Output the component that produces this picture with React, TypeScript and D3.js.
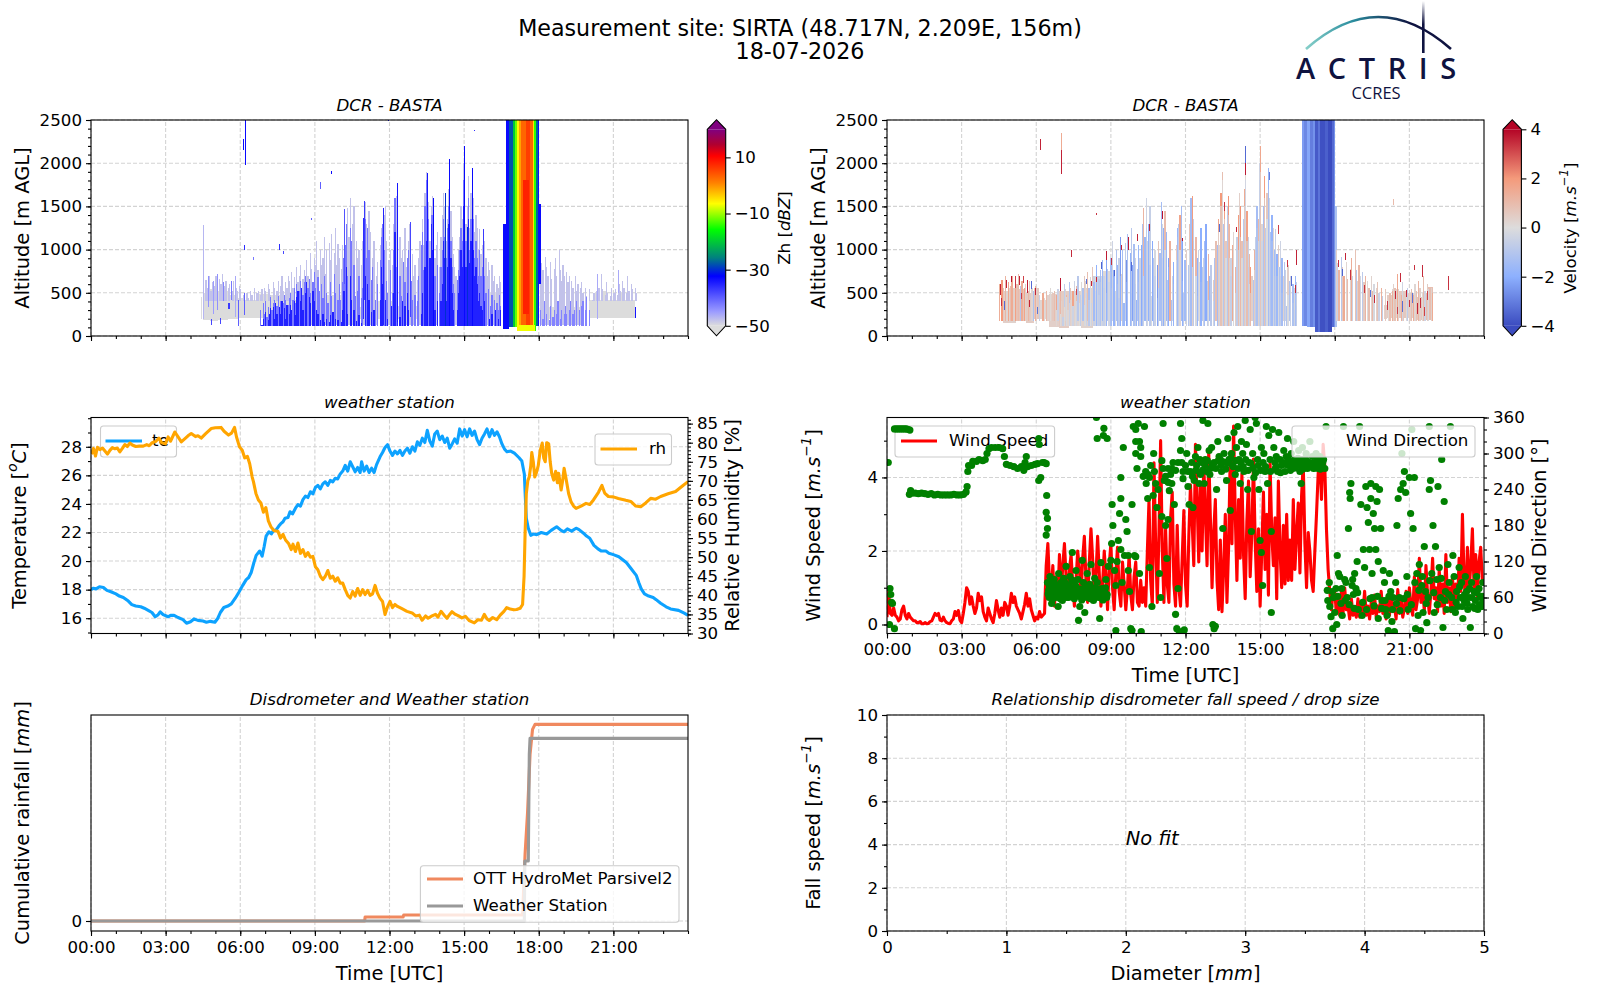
import * as d3 from 'd3';
import React, { useEffect, useRef } from 'react';

// ---- data ----
const timeTicks = [0, 3, 6, 9, 12, 15, 18, 21];
const timeLabels = ['00:00', '03:00', '06:00', '09:00', '12:00', '15:00', '18:00', '21:00'];
const hourMinor = d3.range(0, 25);

// radar rows: start hour, end hour, bottom m, top m, dBZ
const zhRows: number[][] = [
    // low grey echoes
    [4.02, 4.04, 200, 440, -50], [4.42, 4.48, 200, 450, -50], [4.5, 4.53, 200, 1280, -47],
    [4.5, 4.8, 190, 500, -50], [4.8, 5.1, 170, 540, -50], [5.1, 5.5, 190, 520, -50], [5.5, 5.9, 200, 480, -50], [5.9, 6.2, 210, 440, -50],
    [6.2, 6.7, 210, 420, -50], [6.7, 7.2, 210, 490, -50], [7.2, 8.1, 200, 470, -50], [8.1, 9.3, 200, 420, -50], [9.3, 10.2, 200, 480, -50],
    [10.2, 11.2, 200, 340, -50], [11.2, 12.3, 200, 400, -50], [12.3, 13.4, 200, 350, -50], [13.3, 13.6, 200, 560, -50], [15.9, 16.5, 200, 500, -50],
    [18.1, 19.7, 200, 330, -50], [20.0, 21.85, 210, 420, -50], [20.25, 20.45, 210, 500, -50], [20.55, 20.7, 210, 520, -50], [21.2, 21.35, 210, 500, -50],
    // rain shaft
    [16.55, 16.68, 80, 1300, -33], [16.68, 16.82, 80, 2500, -33], [16.82, 16.97, 100, 2500, -28], [16.97, 17.05, 100, 2500, -20], [17.05, 17.13, 100, 2500, -12], [17.13, 17.22, 55, 2500, -6], [17.22, 17.3, 55, 2500, -1], [17.3, 17.5, 55, 2500, 3], [17.5, 17.65, 55, 2500, 6], [17.65, 17.75, 55, 2500, 3], [17.75, 17.83, 55, 2500, -5], [17.82, 17.89, 55, 2500, -14], [17.88, 17.95, 120, 2500, -27], [17.95, 18.03, 120, 2500, -33],
    [17.36, 17.62, 250, 1800, 8], [17.22, 17.83, 55, 130, -7],
    // specks before the convection
    [4.7, 4.74, 330, 690, -44], [4.82, 4.85, 130, 200, -38], [4.9, 4.94, 260, 640, -45], [5.08, 5.12, 300, 720, -44], [5.2, 5.23, 140, 210, -38], [5.3, 5.34, 400, 620, -43], [5.52, 5.6, 310, 380, -37],
    [5.62, 5.66, 420, 640, -42], [5.78, 5.82, 220, 700, -46], [5.92, 5.95, 120, 420, -40], [6.15, 6.18, 1000, 1050, -36], [6.12, 6.16, 2150, 2280, -33], [6.2, 6.24, 1980, 2500, -33], [6.15, 6.18, 240, 500, -40],
    [6.52, 6.55, 880, 920, -42], [7.55, 7.58, 1000, 1060, -36], [7.72, 7.75, 950, 980, -38], [9.2, 9.23, 1700, 1780, -40], [9.65, 9.68, 1880, 1910, -33], [8.85, 8.88, 1340, 1370, -40], [11.95, 11.98, 2490, 2500, -33], [15.4, 15.43, 2370, 2390, -36], [20.45, 20.47, 1880, 1920, -42],
    // cloud fingers, rising through the day
    [10.18, 10.22, 600, 1470, -39], [10.92, 10.97, 200, 1370, -36], [10.99, 11.03, 420, 1560, -37], [11.74, 11.79, 130, 1480, -35], [12.3, 12.34, 160, 1770, -34], [12.82, 12.86, 220, 1320, -38],
    [13.52, 13.56, 120, 1890, -34], [13.76, 13.8, 110, 1600, -33], [14.22, 14.27, 110, 1660, -30], [14.4, 14.44, 110, 2050, -33],
    [15.0, 15.04, 110, 2200, -33], [15.12, 15.16, 110, 1260, -30], [15.33, 15.37, 110, 1940, -33], [15.75, 15.79, 110, 1240, -37],
    [18.02, 18.08, 600, 1530, -33], [18.72, 18.75, 1150, 1200, -42],
    [19.2, 19.23, 1150, 1200, -44], [21.85, 21.89, 210, 340, -34], [21.7, 21.72, 200, 560, -45], [20.35, 20.37, 200, 720, -46], [21.2, 21.22, 500, 760, -46],
];

// echo tops by 3 minute column: pale fringe, mid blue core, saturated core
const zhPaleTopDay = [ // from 04:30
    600, 0, 650, 560, 0, 690, 520, 620, 0, 580,
    700, 540, 0, 660, 600, 720, 0, 580, 640, 0, 560, 600, 0, 520, 640, 0, 560, 520, 0, 580,
    540, 0, 480, 0, 0, 500, 440, 0, 520, 480, 0, 560, 0, 500, 520, 0, 480, 540, 0, 560,
    520, 0, 600, 540, 480, 0, 620, 560, 0, 520, 640, 0, 580, 700, 520, 0, 620, 560, 700, 640,
    0, 740, 560, 680, 0, 800, 620, 700, 820, 0, 660, 760, 0, 880, 700, 640, 960, 780, 0, 900,
    820, 1100, 760, 0, 1000, 820, 900, 1150, 720, 1000, 0, 1080, 880, 1180, 0, 960, 1250, 820, 1060, 900,
    0, 780, 1050, 900, 0, 1300, 1480, 1150, 1600, 0, 1300, 1500, 0, 1100, 900, 1000, 0, 820, 1100, 960,
    1550, 1300, 0, 1450, 1200, 0, 900, 1100, 0, 700, 860, 0, 1050, 1250, 0, 1400, 1500, 1100, 0, 880,
    1000, 0, 820, 1300, 1000, 1620, 1350, 0, 1150, 900, 1000, 0, 1250, 800, 0, 1100, 1300, 0, 950, 700,
    820, 0, 650, 900, 1100, 0, 1350, 1050, 1650, 1900, 1300, 1550, 1100, 1500, 1620, 1300, 900, 1050, 1200, 0,
    800, 1150, 1400, 1650, 1500, 1100, 1350, 1700, 2050, 1450, 1150, 950, 800, 700, 0, 1000, 1150, 1500, 1350, 2000,
    2200, 1300, 1500, 1850, 1250, 1650, 1950, 1600, 1200, 1400, 1250, 1000, 1240, 950, 1050, 800, 1100, 900, 700, 860,
    760, 0, 820, 640, 700, 0, 600, 560, 700, 620,
];
const zhMidTopDay = [ // from 06:48
    300, 0, 380, 260,
    400, 220, 340, 0, 450, 300, 380, 420, 0, 350, 460, 300, 400, 0, 380, 480, 420, 0, 360, 440,
    500, 0, 420, 560, 380, 600, 0, 520, 640, 0, 480, 620, 700, 0, 560, 660, 500, 0, 620, 740,
    560, 0, 680, 520, 0, 600, 440, 700, 0, 500, 380, 0, 620, 460, 0, 720, 500, 0, 420, 600,
    420, 0, 620, 900, 1050, 1300, 700, 0, 1250, 1100, 0, 820, 460, 0, 520, 700, 0, 440, 560, 0,
    1350, 900, 1250, 1000, 0, 650, 800, 0, 420, 0, 600, 0, 880, 1150, 1300, 1000, 0, 640, 500, 0,
    760, 0, 500, 1000, 1600, 800, 1100, 0, 700, 460, 0, 860, 620, 0, 900, 1000, 0, 640, 420, 0,
    480, 0, 400, 700, 0, 1050, 1200, 760, 1500, 1800, 1000, 1350, 900, 1400, 1400, 900, 700, 0, 820, 0,
    500, 800, 1000, 1350, 1150, 900, 1250, 1500, 1800, 1100, 800, 600, 500, 0, 650, 760, 1000, 1250, 1100, 1800,
    1900, 1100, 1250, 1600, 1000, 1350, 1700, 1350, 900, 1100, 900, 700, 1000, 700, 800, 500, 700, 500, 0, 540,
    0, 350, 480, 0, 420, 0, 380, 300, 480, 350,
];
const zhBlueTopDay = [ // from 06:48
    0, 130, 200, 0,
    280, 0, 180, 250, 320, 0, 340, 200, 380, 250, 0, 340, 260, 400, 0, 320, 200, 360, 0, 260,
    360, 300, 0, 400, 240, 450, 520, 0, 400, 560, 300, 0, 500, 620, 0, 450, 380, 0, 520, 400,
    0, 300, 260, 0, 180, 0, 250, 160, 0, 200, 0, 160, 240, 0, 280, 0, 200, 0, 180, 0,
    0, 160, 300, 520, 0, 800, 260, 0, 700, 420, 0, 300, 0, 170, 0, 240, 0, 150, 0, 0,
    700, 0, 600, 420, 0, 280, 0, 300, 0, 0, 0, 0, 420, 800, 600, 0, 420, 0, 200, 0,
    0, 350, 0, 500, 1200, 0, 500, 0, 220, 0, 400, 0, 350, 0, 500, 300, 0, 0, 0, 0,
    0, 0, 0, 0, 0, 250, 500, 0, 800, 1100, 500, 0, 900, 1300, 1000, 600, 300, 0, 400, 0,
    0, 400, 600, 1100, 900, 400, 800, 1300, 1500, 900, 500, 300, 0, 0, 300, 500, 700, 1000, 800, 1500,
    1600, 800, 1000, 1350, 850, 1100, 1400, 1000, 700, 800, 600, 400, 500, 350, 300, 300, 400, 0, 0, 0,
    200, 0, 250, 0, 0, 300, 0, 200, 0, 300,
];
const zhPaleTopEve = [ // from 18:03
    1000, 850, 760, 0, 920, 800, 700, 0, 860, 660, 0, 780, 900, 700, 0, 1000, 760, 640, 820, 700,
    0, 740, 620, 700, 0, 640, 560, 0, 700, 520, 600, 0, 560, 620, 500, 0, 560, 460, 0, 540,
    0, 0, 420, 500, 0, 520, 600, 560, 0, 720, 540, 0, 480, 620, 500, 0, 460, 560, 0, 500,
    540, 0, 480, 600, 520, 0, 640, 560, 0, 500, 700, 520, 0, 600, 540, 0, 560, 500,
];
const zhMidTopEve = [ // from 18:03
    300, 0, 200, 400, 0, 260, 0, 180, 350, 0, 220, 300, 0, 250, 400, 0, 200, 300, 0, 250,
    350, 250, 0, 300, 400, 0, 250, 300, 0, 400, 0, 300, 0, 350, 400, 0, 300, 450, 0, 300,
];

// same layout, Doppler velocity in m/s
const velRows: number[][] = [
    // morning pale layer
    [4.66, 4.9, 150, 520, 0.4], [4.9, 5.2, 150, 560, 0.3], [5.2, 5.6, 170, 540, 0.7], [5.6, 5.9, 150, 500, 0.5], [5.9, 6.1, 200, 560, 0.6], [6.1, 6.5, 200, 420, 0.2], [6.5, 6.9, 100, 490, 0.4], [6.9, 7.3, 90, 520, 0.5], [7.3, 7.8, 110, 520, 0.2], [7.8, 8.3, 90, 560, 0.3], [8.3, 8.7, 120, 700, -0.5], [8.7, 9.1, 180, 750, 0.1],
    // rain shaft
    [16.7, 16.78, 120, 2500, -2.4], [16.78, 16.9, 120, 2500, -2.8], [16.9, 17.02, 100, 2500, -2.2], [17.02, 17.12, 100, 2500, -3.0], [17.12, 17.22, 100, 2500, -2.6], [17.22, 17.32, 50, 2500, -3.7], [17.32, 17.42, 50, 2500, -3.2], [17.42, 17.62, 50, 2500, -3.9], [17.62, 17.72, 50, 2500, -3.6], [17.72, 17.88, 50, 2500, -4], [17.88, 17.96, 100, 2500, -3.4], [17.96, 18.02, 100, 2500, -2.6], [18.02, 18.09, 100, 1500, -1.2],
    // evening patch
    [19.98, 20.1, 200, 360, 0.4], [20.1, 20.3, 210, 470, 0.5], [20.3, 20.6, 210, 540, 0.2], [20.6, 20.9, 210, 520, 0.6], [20.9, 21.3, 210, 500, 0.4], [21.3, 21.6, 190, 450, 0.6], [21.6, 21.75, 190, 500, 0.9], [21.75, 21.95, 190, 570, 0.9],
    // top specks
    [6.14, 6.17, 2150, 2500, 2.6], [6.15, 6.18, 2150, 2280, 3.6], [7.0, 7.03, 1880, 2150, 3.6], [7.0, 7.03, 2150, 2350, 1.5], [8.4, 8.43, 1400, 1420, 3.4], [8.03, 8.06, 930, 1000, 3.6], [7.4, 7.43, 920, 990, 3.5], [20.35, 20.37, 1520, 1590, 1], [21.5, 21.54, 680, 820, 3.5], [22.55, 22.58, 530, 700, 3.4],
    // dark specks along the layer top
    [4.56, 4.58, 480, 600, 3.6], [4.62, 4.64, 200, 300, -3.6], [4.8, 4.83, 550, 650, 3.6], [4.98, 5.01, 620, 700, 3.8], [5.14, 5.17, 560, 700, 3.3], [5.3, 5.33, 590, 690, 3.6], [5.48, 5.51, 610, 700, 3.2], [5.62, 5.65, 500, 650, 3.7], [5.8, 5.83, 540, 640, -3.4], [5.96, 5.99, 480, 550, 3.6], [6.22, 6.25, 400, 500, 3.5], [6.42, 6.45, 480, 540, -3.5], [6.7, 6.73, 500, 560, 3.6], [6.96, 6.99, 520, 670, 3.8], [7.1, 7.13, 480, 540, -3.2], [7.3, 7.33, 420, 530, 3.6], [7.6, 7.63, 480, 540, 3.2], [7.82, 7.85, 600, 680, 3.4], [8.02, 8.05, 600, 660, -3.3], [8.22, 8.25, 580, 640, 3.6], [8.42, 8.45, 620, 680, 3.6], [8.62, 8.65, 780, 860, -3.5], [8.82, 8.85, 880, 980, 3.7], [9.02, 9.05, 820, 900, 3.4], [9.14, 9.17, 690, 760, -3.6], [9.27, 9.3, 820, 940, 3.9], [9.42, 9.45, 1000, 1050, 3.6], [9.55, 9.58, 820, 920, 3.2], [9.68, 9.72, 1000, 1150, 3.7], [9.8, 9.84, 750, 860, -3.4],
    [4.6, 4.62, 350, 440, 3.4], [4.72, 4.74, 300, 400, -3.4], [5.06, 5.08, 400, 520, 3.5], [5.4, 5.42, 430, 500, 3.2], [5.72, 5.74, 330, 420, 3.6], [6.05, 6.07, 260, 340, -3.2], [7.5, 7.52, 380, 460, 3.4],
    [14.05, 14.08, 1200, 1260, 3.6], [14.4, 14.43, 1860, 2000, 3.7], [14.4, 14.43, 2000, 2200, -3.4], [14.78, 14.81, 1300, 1360, -3.4], [13.55, 13.58, 1450, 1550, 3.4], [13.35, 13.38, 1200, 1300, -3.3], [15.35, 15.38, 1800, 1900, -3], [15.72, 15.75, 1180, 1280, 3.2], [16.4, 16.43, 500, 590, 3.5], [16.25, 16.28, 580, 700, -3.4], [16.08, 16.11, 800, 880, 3.4], [16.55, 16.58, 1350, 1500, -3], [16.46, 16.48, 820, 1000, 3.6], [10.55, 10.58, 1220, 1300, 3.6], [11.05, 11.08, 1350, 1450, 3.8], [10.05, 10.08, 1100, 1180, 3.6], [11.85, 11.88, 1100, 1130, 3.8], [12.25, 12.28, 1000, 1080, -3.2],
    [18.15, 18.18, 800, 880, 3.4], [18.3, 18.33, 700, 770, -3.5], [18.42, 18.45, 880, 960, 3.6], [18.62, 18.65, 650, 760, 3.4], [18.8, 18.83, 620, 720, -3.2], [18.96, 18.99, 560, 660, 3.6], [19.18, 19.21, 500, 590, 3.4], [19.42, 19.45, 450, 530, -3.2], [19.58, 19.61, 380, 480, 3.5],
    [20.1, 20.13, 300, 400, 3.4], [20.25, 20.28, 280, 350, -3.2], [20.42, 20.45, 430, 520, 3.6], [20.52, 20.55, 250, 340, 3.2], [20.62, 20.65, 620, 730, 3.5], [20.72, 20.75, 280, 400, -3.3], [20.86, 20.89, 450, 530, 3.6], [20.98, 21.01, 330, 420, 3.4], [21.12, 21.15, 380, 500, -3.2], [21.2, 21.23, 760, 820, 3.4], [21.32, 21.35, 260, 380, 3.6], [21.44, 21.47, 320, 440, 3.5], [21.58, 21.61, 230, 330, 3.2], [21.7, 21.73, 420, 520, 3.2],
];
const velHighDay = [ // from 04:30
    1.4, 0.3, 2.0, 0.6, -0.8, 1.2, 0.2, 1.6, -0.4, 0.9,
    1.5, 0.4, -0.6, 1.8, 0.8, 1.0, 0.2, -1, 1.4, 0.5, 1.7, 0.3, -0.8, 1.1, 0.6, 1.6, 0.2, -1.2, 0.8, 1.3,
    0.4, 1.2, -0.6, 0.3, 0.7, 1.5, 0.1, -0.9, 1.0, 0.3, 1.3, 0.1, -1, 0.6, 0.9, 0.2, 1.6, -0.5, 0.4, 1.1,
    0.5, 1.5, -0.7, 0.3, 1.2, 0.1, -1.1, 0.8, 0.4, 1.7, -0.4, 0.2, 1.0, -0.9, 0.5, 1.4, 0.1, -1.2, 0.6, 0.2,
    -0.6, 0.9, -1.3, 0.3, -0.8, 0.7, -1.5, 0.1, -1.9, 0.5, -0.9, -1.4, 0.2, -1.7, -0.5, 0.4, -2.2, -1, 0.6, -1.4,
    -1.6, -0.4, -2.1, 0.8, -1.2, -1.8, -0.6, -2.4, 0.3, -1.4, -1.9, -0.7, -2.6, -1.2, 0.2, -1.8, -0.9, -2.3, -1.3, -0.3,
    -2, -1, -1.7, 0.5, -2.4, -1.1, 1.2, -1.6, -0.4, 1.6, -1.9, -0.6, 1.3, -2.1, -1, -0.2, -1.8, -2.5, 0.7, -1.3,
    -1.4, -0.2, -2.2, 1, -1.6, -0.6, -2.3, 1.4, -1.2, -0.3, -2, -1, 0.6, -1.7, -0.5, 1.7, -1.4, -2.2, -0.7, -1.5,
    0.4, -1.9, -1, 0.8, -1.6, 1.9, -0.6, -1.5, 1.1, -1.9, -0.4, 1.3, -2, -0.9, 0.6, -1.4, -2.1, -0.4, 1.2, -1.6,
    -0.8, -1.8, 0.5, -1.1, 0.9, -1.6, 1.6, 0.2, 2, 0.9, -1.1, 1.8, 0.6, -0.7, 2.1, 1.2, -0.4, 1.5, 0.2, -1.2,
    1.2, -0.6, 1.9, 0.4, 2.1, 0.8, -0.8, 1.5, 0.2, 1.8, -0.5, 1.1, 2.0, 0.4, -0.9, 1.3, -0.6, -1.4, 1.1, -0.4,
    1.6, 0.2, -1.3, 1.9, -0.8, 0.6, -1.7, -0.3, -1.2, -1.8, 0.2, -1.4, -0.6, -1.9, 0.5, -1.1, -0.4, -1.6, 0.3, -1,
    -0.5, -1.3, 0.4, -1.1, -0.3, 0.9, -1.4, -0.2, -1.7, -0.6,
];
const velLowDay = [ // from 06:48
    0.2, -0.4, 0.6, 0.1,
    0.3, -0.6, 0.1, 0.5, -0.2, 0.2, -0.5, 0.4, 0, -0.4, 0.3, 0.1, -0.3, 0.5, 0, -0.7, 0.2, 0.4, -0.2, 0.1,
    -0.5, 0.2, -0.9, 0, -0.4, 0.3, -1.2, -0.3, -1.6, 0.1, -0.7, -1.1, -0.2, -1.4, -0.6, -0.1, -1.8, -0.9, -0.3, -1.2,
    -1.4, -0.6, -1.8, -0.2, -1.1, -1.5, -0.8, -2, -0.4, -1.2, -1.6, -0.9, -2.2, -1.3, -0.3, -1.7, -1, -1.9, -1.2, -0.6,
    -1.8, -1.1, -1.5, -0.4, -2.1, -1.2, -0.5, -1.4, -0.7, -0.3, -1.7, -0.9, -0.2, -1.9, -1.1, -0.5, -1.6, -2.2, -0.6, -1.2,
    -1.3, -0.5, -1.9, -0.2, -1.5, -0.8, -2, -0.3, -1.2, -0.6, -1.8, -1.1, -0.3, -1.5, -0.7, 0.2, -1.3, -1.9, -0.8, -1.4,
    -0.5, -1.7, -1.1, -0.2, -1.4, 0.4, -0.8, -1.4, -0.2, -1.7, -0.6, 0.1, -1.8, -1, -0.4, -1.3, -1.9, -0.7, -0.1, -1.4,
    -0.9, -1.6, -0.3, -1.1, -0.2, -1.4, 0.5, -0.3, 0.8, 0.2, -1, 0.7, -0.1, -0.9, 1, 0.3, -0.6, 0.5, -0.2, -1,
    0.4, -0.7, 0.9, -0.2, 1.1, 0.1, -0.9, 0.6, -0.3, 0.9, -0.7, 0.3, 1, -0.2, -1, 0.5, -0.7, -1.2, 0.3, -0.6,
    0.7, -0.3, -1.1, 0.8, -0.9, 0, -1.4, -0.5, -1.1, -1.5, -0.3, -1.2, -0.7, -1.6, -0.1, -1, -0.6, -1.4, -0.2, -0.9,
    -0.6, -1.1, -0.1, -1, -0.5, 0.2, -1.2, -0.4, -1.4, -0.7,
];
const velHighEve = [ // from 18:03
    0.4, -0.5, 1.2, 0.2, -0.9, 0.6, 1.5, -0.4, 0.2, 1.0, -0.7, 0.3, 1.4, -0.5, 0.1, 0.8, -1, 0.4, 1.1, -0.3,
    0.2, -0.8, 0.5, 1.2, -0.4, 0.1, 0.9, -0.6, 0.3, 1.1, -0.2, -0.9, 0.4, 0.8, -0.5, 0.2, 1.3, -0.7, 0.1, 0.6,
    0.5, 1.2, 0.1, 0.9, -0.6, 1.4, 0.3, 0.8, -0.4, 1.6, 0.2, 0.7, 1.3, -0.3, 0.6, 1.1, 0.1, -0.7, 1.5, 0.4,
    0.9, -0.5, 1.4, 0.2, 0.8, -0.8, 1.2, 0.4, 1.6, 0.1, 0.9, -0.4, 1.3, 0.5, -0.2, 1.0, 0.3, 1.5,
];

// weather station: hour, value
const temperature: [number, number][] = [
    [0, 18], [0.1, 18.1], [0.2, 18.05], [0.34, 18.2], [0.5, 18.15], [0.64, 17.95], [0.8, 17.85], [1, 17.7], [1.14, 17.55], [1.3, 17.45], [1.5, 17.2], [1.64, 16.95], [1.8, 16.85], [2, 16.8], [2.14, 16.7], [2.3, 16.55], [2.45, 16.4], [2.58, 16.1], [2.7, 16.25], [2.78, 16.45], [2.9, 16.25], [3.1, 16.1], [3.2, 16.2], [3.34, 16.2], [3.5, 16.05], [3.7, 15.9], [3.84, 15.65], [4, 15.75], [4.14, 15.95], [4.3, 15.85], [4.5, 15.8], [4.64, 15.72], [4.8, 15.78], [4.98, 15.72], [5.1, 16], [5.2, 16.4], [5.34, 16.75], [5.5, 16.85], [5.64, 17], [5.8, 17.4], [5.94, 17.8], [6.1, 18.3], [6.24, 18.7], [6.34, 18.85], [6.44, 19.2], [6.55, 19.9], [6.64, 20.4], [6.78, 20.7], [6.88, 20.35], [6.96, 21], [7.04, 21.75], [7.15, 22.05], [7.25, 21.9], [7.32, 22.1], [7.45, 22.2], [7.55, 22.45], [7.62, 22.6], [7.72, 22.75], [7.8, 23], [7.92, 23.05], [8, 23.45], [8.1, 23.3], [8.22, 23.7], [8.32, 23.95], [8.42, 23.85], [8.52, 24.3], [8.62, 24.55], [8.72, 24.45], [8.82, 24.85], [8.92, 24.7], [9.02, 25.15], [9.12, 25.3], [9.22, 25.05], [9.32, 25.4], [9.42, 25.55], [9.52, 25.3], [9.62, 25.65], [9.72, 25.55], [9.82, 25.8], [9.92, 25.75], [10.02, 26.1], [10.12, 26.3], [10.22, 26.7], [10.32, 26.3], [10.42, 26.95], [10.52, 26.6], [10.62, 26.25], [10.72, 26.55], [10.82, 26.2], [10.88, 26.95], [10.98, 26.3], [11.08, 26.65], [11.18, 26.2], [11.28, 26.5], [11.38, 26.2], [11.48, 26.75], [11.62, 27.3], [11.72, 27.6], [11.82, 27.95], [11.92, 28.15], [12.02, 27.7], [12.12, 27.4], [12.22, 27.7], [12.32, 27.5], [12.42, 27.75], [12.52, 27.4], [12.62, 27.7], [12.72, 27.9], [12.82, 27.55], [12.92, 28], [13.02, 27.7], [13.12, 28.35], [13.22, 28.1], [13.32, 28.6], [13.42, 28.3], [13.52, 29.15], [13.62, 28.4], [13.72, 28.05], [13.82, 28.9], [13.92, 29.1], [14.02, 28.5], [14.12, 28.75], [14.22, 28.3], [14.32, 28.6], [14.42, 27.9], [14.52, 28.2], [14.62, 28.55], [14.72, 28.25], [14.82, 29.25], [14.92, 28.75], [15.02, 29.2], [15.12, 28.7], [15.22, 29.25], [15.32, 28.8], [15.42, 29.1], [15.52, 28.5], [15.62, 28.15], [15.72, 28.6], [15.82, 28.9], [15.92, 29.25], [16.02, 28.7], [16.12, 29.2], [16.22, 28.8], [16.32, 29.05], [16.42, 28.7], [16.52, 28.2], [16.62, 27.85], [16.72, 27.65], [16.87, 27.7], [17.02, 27.55], [17.2, 27.25], [17.32, 27], [17.42, 26.1], [17.46, 24.5], [17.5, 23], [17.58, 22.3], [17.68, 21.8], [17.8, 21.9], [17.92, 21.85], [18.1, 22], [18.32, 21.9], [18.5, 22.15], [18.72, 22.4], [18.9, 22.15], [19.02, 22.05], [19.15, 22.25], [19.32, 22.1], [19.5, 22.3], [19.62, 22.2], [19.8, 21.95], [19.92, 21.75], [20.05, 21.6], [20.22, 21.1], [20.38, 20.85], [20.52, 20.7], [20.7, 20.7], [20.82, 20.55], [21, 20.45], [21.22, 20.3], [21.52, 19.9], [21.7, 19.5], [21.92, 19], [22.02, 18.5], [22.12, 18.05], [22.25, 17.7], [22.42, 17.55], [22.6, 17.45], [22.72, 17.3], [22.9, 17.05], [23.12, 16.8], [23.3, 16.65], [23.62, 16.55], [23.85, 16.35], [24, 16.2],
];
const humidity: [number, number][] = [
    [0.02, 77], [0.1, 78.5], [0.18, 76.5], [0.26, 78.8], [0.36, 78.2], [0.46, 78.6], [0.56, 77.8], [0.66, 77], [0.76, 78], [0.86, 78.7], [0.96, 78.4], [1.06, 78.6], [1.16, 77.6], [1.26, 78.5], [1.36, 79.5], [1.46, 79], [1.56, 79.9], [1.66, 79.4], [1.8, 79], [1.94, 79.1], [2.1, 79.1], [2.24, 79.5], [2.34, 79.2], [2.46, 80], [2.6, 80.3], [2.73, 81.2], [2.84, 80], [2.99, 79.7], [3.1, 81.5], [3.2, 80.4], [3.37, 82.8], [3.5, 81.5], [3.63, 80.2], [3.8, 81.2], [3.9, 81.8], [4.03, 82.4], [4.2, 81.6], [4.3, 81.8], [4.43, 81.2], [4.6, 82.3], [4.83, 83.7], [5, 83.9], [5.23, 84], [5.35, 83], [5.53, 82], [5.65, 82.5], [5.77, 84], [5.85, 81.5], [5.97, 78.9], [6.08, 78], [6.18, 76], [6.29, 76.4], [6.38, 74.5], [6.48, 71], [6.53, 69.8], [6.63, 66.7], [6.73, 65], [6.83, 64.2], [6.93, 61.8], [7.03, 63], [7.13, 59.5], [7.23, 58], [7.35, 57], [7.52, 56.7], [7.62, 55], [7.72, 56], [7.82, 54.5], [7.95, 53.5], [8.05, 52], [8.12, 53.4], [8.22, 51.5], [8.32, 53.7], [8.42, 51], [8.52, 52], [8.62, 50.2], [8.72, 51.2], [8.82, 50], [8.92, 50.2], [9.02, 47.5], [9.12, 46.7], [9.22, 45], [9.32, 44.1], [9.42, 45], [9.52, 46.5], [9.62, 44.5], [9.72, 45], [9.82, 43.7], [9.92, 44.6], [10.02, 43.2], [10.12, 43.2], [10.22, 41.5], [10.32, 40], [10.42, 39.3], [10.52, 41], [10.62, 39.8], [10.72, 41.8], [10.82, 40], [10.92, 41.5], [11.02, 40.2], [11.12, 41.3], [11.22, 40], [11.32, 40.4], [11.42, 42.6], [11.52, 40.5], [11.62, 39.2], [11.72, 38.4], [11.82, 35], [11.92, 37], [12.02, 38.4], [12.12, 36.8], [12.22, 37.6], [12.32, 37.1], [12.5, 36.5], [12.7, 35.8], [12.91, 35.4], [13.05, 34.6], [13.2, 34.8], [13.31, 33.5], [13.45, 34.6], [13.55, 34], [13.71, 34.6], [13.85, 35], [13.95, 34.3], [14.07, 35.8], [14.2, 34.8], [14.31, 34], [14.42, 35], [14.51, 35.7], [14.65, 35], [14.78, 34.6], [14.91, 34.1], [15.05, 34.5], [15.2, 33.4], [15.41, 32.8], [15.55, 33.6], [15.7, 33.5], [15.81, 35], [15.92, 33.8], [16.01, 33.4], [16.15, 34.2], [16.31, 33.6], [16.45, 34.8], [16.6, 35.8], [16.71, 36.8], [16.85, 36.4], [17, 36.2], [17.11, 36.3], [17.25, 36.6], [17.35, 37.6], [17.41, 45], [17.45, 56], [17.5, 66.7], [17.56, 70], [17.62, 71.1], [17.68, 74], [17.72, 77.4], [17.78, 75], [17.84, 71], [17.9, 72], [17.98, 74], [18.06, 78], [18.14, 79.9], [18.2, 76], [18.26, 75], [18.32, 80], [18.4, 79.7], [18.46, 75], [18.52, 72], [18.6, 70.2], [18.68, 72.5], [18.75, 69.5], [18.8, 72], [18.9, 67.6], [18.96, 70], [19.02, 73.3], [19.1, 70.5], [19.2, 66.7], [19.3, 64.5], [19.4, 63.4], [19.5, 62.8], [19.7, 63.4], [19.9, 64.1], [20.05, 63.8], [20.2, 65], [20.4, 67], [20.54, 68.8], [20.65, 66.8], [20.8, 65.9], [21, 65.8], [21.2, 65.4], [21.5, 64.9], [21.7, 64.6], [21.9, 63.4], [22.1, 63.2], [22.3, 64.2], [22.5, 65.4], [22.7, 65.2], [22.9, 65.9], [23.2, 66.6], [23.5, 67.2], [23.8, 68.8], [24, 69.8],
];

// wind speed, one sample every 4 minutes from 00:00
const windSpeed = [
    0.2, 0.9, 0.3, 0.25, 0.45, 0.25, 0.2, 0.1, 0.15, 0.4, 0.5, 0.25, 0.15, 0.3, 0.2,
    0.15, 0.1, 0.1, 0.05, 0.05, 0.08, 0.02, 0.02, 0.05, 0.02, 0.03, 0.08, 0.1, 0.2, 0.3,
    0.25, 0.3, 0.12, 0.1, 0.2, 0.1, 0.05, 0.03, 0.02, 0.1, 0.15, 0.35, 0.25, 0.38, 0.12,
    0.05, 0.3, 0.6, 1.0, 0.9, 0.55, 0.75, 0.5, 0.3, 0.45, 0.85, 0.65, 0.75, 0.35, 0.2,
    0.1, 0.45, 0.3, 0.15, 0.05, 0.3, 0.65, 0.4, 0.2, 0.45, 0.25, 0.6, 0.5, 0.25, 0.5,
    0.85, 0.6, 0.75, 0.5, 0.4, 0.3, 0.15, 0.35, 0.55, 0.85, 0.5, 0.7, 0.4, 0.25, 0.1,
    0.2, 0.15, 0.35, 0.2, 0.25, 0.3, 1.6, 2.2, 1.1, 0.9, 1.6, 0.5, 1.3, 0.7, 1.9,
    0.8, 1.6, 2.2, 1.3, 0.7, 1.5, 1.9, 1.1, 0.5, 1.2, 2.0, 1.5, 0.8, 1.8, 2.4,
    1.2, 0.6, 1.7, 2.6, 1.8, 0.7, 1.3, 2.4, 1.4, 0.5, 1.1, 2.0, 1.3, 0.4, 1.6,
    2.2, 1.0, 0.4, 1.4, 2.1, 0.9, 0.5, 1.7, 1.1, 0.4, 1.0, 1.9, 0.8, 0.4, 1.3,
    1.7, 0.6, 0.5, 1.2, 0.6, 1.0, 0.5, 2.0, 3.4, 1.2, 0.5, 4.4, 2.2, 0.6, 2.5,
    5.0, 2.0, 0.6, 2.6, 1.1, 0.6, 2.9, 3.6, 1.1, 0.5, 2.7, 1.0, 0.5, 1.8, 3.1,
    1.1, 0.5, 2.4, 3.8, 2.8, 1.6, 4.9, 3.4, 1.7, 3.8, 2.0, 4.4, 3.0, 1.6, 4.7,
    2.9, 1.0, 2.5, 3.4, 1.2, 0.4, 2.3, 0.35, 1.5, 3.0, 0.6, 2.1, 4.7, 2.2, 5.4,
    3.0, 1.2, 3.4, 1.8, 4.1, 1.9, 0.7, 2.8, 3.9, 1.3, 2.5, 4.5, 2.3, 0.9, 2.6,
    0.5, 2.0, 3.6, 1.5, 3.0, 0.8, 4.4, 2.5, 1.6, 2.9, 0.7, 3.9, 2.0, 1.0, 2.7,
    1.1, 3.0, 1.2, 2.3, 1.2, 3.4, 1.5, 2.5, 3.3, 1.4, 3.5, 4.4, 2.2, 1.0, 2.5,
    2.0, 1.2, 0.9, 2.0, 3.0, 4.1, 4.6, 3.4, 4.9, 4.3, 2.6, 1.5, 0.9, 0.4, 0.9,
    0.9, 0.3, 0.7, 0.25, 0.9, 0.3, 1.0, 0.4, 0.5, 0.15, 0.7, 0.25, 0.4, 0.2, 0.7,
    0.2, 0.6, 0.3, 0.9, 0.25, 0.5, 0.15, 0.6, 0.3, 0.8, 0.2, 0.5, 0.35, 0.9, 0.3,
    0.6, 0.15, 0.8, 0.25, 0.9, 0.35, 0.5, 0.15, 0.95, 0.3, 0.7, 0.2, 0.45, 0.9, 0.3,
    1.0, 0.5, 0.25, 1.3, 0.4, 0.7, 1.8, 0.6, 1.1, 0.35, 1.6, 0.8, 0.3, 0.9, 1.8,
    0.7, 1.0, 0.35, 1.5, 0.5, 1.1, 0.3, 1.9, 0.6, 1.0, 0.35, 1.3, 0.4, 1.1, 0.5,
    1.8, 0.9, 3.0, 1.2, 0.6, 2.1, 0.9, 1.6, 2.6, 1.0, 1.9, 0.7, 1.7, 2.1, 1.2,
];

const windDir: [number, number][] = [
    [0.05, 285], [0.1, 15], [0.12, 75], [0.15, 65], [0.18, 52], [0.22, 50], [0.3, 8], [0.3, 341], [0.38, 341], [0.46, 341], [0.54, 341], [0.62, 341], [0.7, 341], [0.78, 341], [0.86, 340], [0.92, 339],
    [0.9, 232], [0.95, 238], [1.0, 234], [1.13, 234], [1.26, 233], [1.39, 234], [1.52, 233], [1.65, 232], [1.78, 233], [1.91, 231], [2.04, 232], [2.17, 231], [2.3, 231], [2.43, 231], [2.56, 231], [2.69, 232], [2.82, 231], [2.95, 231], [3.08, 232], [3.18, 236], [3.22, 245],
    [3.25, 270], [3.28, 280], [3.4, 280], [3.45, 287], [3.6, 287], [3.7, 290], [3.85, 288], [3.95, 290], [4.02, 300], [4.1, 308], [4.2, 310], [4.35, 310], [4.5, 310], [4.65, 308], [4.72, 295], [4.8, 282], [4.95, 280], [5.1, 278], [5.25, 275], [5.4, 278], [5.5, 272], [5.55, 285], [5.6, 295], [5.65, 278], [5.8, 280], [5.95, 282], [6.05, 283], [6.1, 325], [6.12, 315], [6.18, 260], [6.25, 285], [6.32, 285], [6.4, 283],
    [6.1, 255], [6.42, 230], [6.4, 202], [6.45, 192], [6.45, 175], [6.4, 164],
    [6.45, 85], [6.5, 72], [6.52, 60], [6.55, 95], [6.6, 80], [6.62, 50], [6.68, 70], [6.72, 90], [6.78, 60], [6.82, 78], [6.88, 45], [6.9, 100], [6.95, 68], [7.0, 85], [7.05, 55], [7.1, 92], [7.15, 70], [7.2, 112], [7.25, 80], [7.3, 60], [7.35, 95], [7.4, 72], [7.45, 135], [7.5, 88], [7.55, 65], [7.6, 105], [7.65, 75], [7.7, 22], [7.75, 45], [7.8, 68], [7.85, 122], [7.9, 85], [7.95, 35], [8.0, 70], [8.05, 100], [8.1, 60], [8.15, 82], [8.2, 115], [8.25, 72], [8.3, 55], [8.35, 92], [8.4, 68], [8.42, 360], [8.45, 325], [8.45, 85], [8.5, 60], [8.55, 25], [8.6, 118], [8.65, 75], [8.7, 330], [8.72, 342], [8.8, 90], [8.85, 65], [8.85, 325], [8.9, 112],
    [6.48, 66], [6.53, 78], [6.58, 62], [6.63, 88], [6.67, 58], [6.73, 75], [6.77, 82], [6.83, 62], [6.87, 72], [6.93, 80], [6.97, 58], [7.03, 68], [7.07, 76], [7.13, 62], [7.17, 84], [7.23, 60], [7.28, 70], [7.33, 78], [7.38, 62], [7.43, 88], [7.48, 70], [7.53, 58], [7.58, 80], [7.63, 66], [7.68, 90], [7.73, 62], [7.78, 74], [7.83, 56], [7.88, 70], [7.93, 60], [7.98, 78], [8.03, 62], [8.08, 72], [8.13, 66], [8.18, 58], [8.23, 76], [8.28, 68], [8.33, 62], [8.38, 76], [8.48, 68], [8.53, 74], [8.58, 62], [8.63, 70], [8.68, 56], [8.73, 66], [8.78, 76], [8.83, 60],
    [9.0, 122], [9.03, 150], [9.05, 215], [9.08, 180], [9.15, 105], [9.2, 80], [9.2, 5], [9.25, 120], [9.3, 155], [9.35, 200], [9.4, 260], [9.45, 85], [9.4, 140], [9.4, 225], [9.5, 310], [9.55, 130], [9.6, 190], [9.65, 170], [9.7, 130], [9.7, 105], [9.75, 70], [9.8, 8], [9.85, 5], [9.9, 345], [9.85, 215], [9.95, 130], [10.0, 340], [10.0, 320], [10.0, 300], [10.0, 128], [10.05, 275], [10.1, 350], [10.15, 100], [10.15, 320], [10.2, 310], [10.2, 295], [10.22, 3], [10.3, 262], [10.35, 345], [10.4, 270], [10.42, 250], [10.48, 225], [10.5, 265], [10.55, 110], [10.55, 260], [10.6, 280], [10.65, 45], [10.7, 230], [10.72, 300], [10.75, 270], [10.8, 250], [10.85, 210], [10.9, 240], [10.95, 100], [11.0, 60], [11.05, 195], [11.05, 288], [11.1, 350], [11.15, 255], [11.2, 180], [11.25, 125], [11.3, 275], [11.3, 190], [11.35, 238], [11.4, 265], [11.45, 250], [11.5, 285], [11.55, 215], [11.6, 32], [11.65, 8], [11.7, 75], [11.75, 3], [11.8, 305], [11.8, 350], [11.85, 325], [11.85, 285], [11.9, 270], [11.95, 6], [12.05, 300], [12.1, 245], [12.15, 215], [12.2, 270], [12.25, 285], [12.3, 210], [12.35, 255], [12.4, 295], [12.45, 280], [12.5, 310], [12.55, 250], [12.6, 265], [12.65, 285], [12.7, 355], [12.75, 250], [12.8, 290], [12.85, 270], [12.9, 350], [12.95, 305], [13.0, 275], [13.05, 310], [13.1, 15], [13.15, 8], [13.15, 285], [13.2, 12], [13.25, 240], [13.3, 320], [13.35, 295], [13.4, 290], [13.45, 270], [13.5, 175], [13.55, 300], [13.6, 285], [13.65, 255], [13.7, 325], [13.75, 290], [13.8, 205], [13.85, 300], [13.9, 280], [13.95, 335], [14.0, 265], [14.05, 310], [14.1, 345], [14.15, 290], [14.2, 250], [14.25, 320], [14.3, 300], [14.35, 270], [14.4, 355], [14.45, 315], [14.5, 240], [14.55, 285], [14.6, 340], [14.65, 170], [14.7, 300], [14.75, 260], [14.8, 360], [14.85, 350], [14.9, 290], [14.95, 240], [15.0, 155], [15.05, 135], [15.05, 310], [15.1, 80], [15.15, 300], [15.2, 270], [15.25, 345], [15.3, 250], [15.35, 330], [15.4, 290], [15.45, 35], [15.45, 170], [15.5, 340], [15.55, 310], [15.6, 285], [15.65, 295], [15.7, 270], [15.75, 335], [15.8, 290], [15.85, 280], [15.95, 305], [16.0, 270], [16.05, 295], [16.1, 325], [16.15, 280], [16.2, 285], [16.25, 300], [16.3, 275], [16.35, 320], [16.4, 280], [16.45, 290], [16.5, 285], [16.55, 305], [16.6, 270], [16.65, 290], [16.65, 250], [16.7, 310], [16.75, 285], [16.8, 280], [16.85, 300], [16.9, 275], [16.95, 285], [17.0, 320], [17.05, 280], [17.1, 295], [17.15, 275], [17.2, 285], [17.25, 300], [17.3, 280], [17.35, 275], [17.4, 295], [17.45, 285], [17.5, 280], [17.55, 290], [17.6, 275], [17.65, 345],
    [11.1, 275], [11.2, 262], [11.3, 252], [11.45, 275], [11.6, 272], [11.7, 285], [11.9, 258], [12.0, 280], [12.1, 270], [12.28, 262], [12.42, 272], [12.58, 290], [12.68, 272], [12.78, 280], [12.88, 288], [12.98, 265], [13.08, 282], [13.22, 275], [13.32, 288], [13.42, 280], [13.52, 286], [13.62, 274], [13.72, 284], [13.82, 292], [13.92, 278], [14.02, 288], [14.12, 275], [14.22, 285], [14.32, 278], [14.42, 290], [14.52, 272], [14.62, 284], [14.72, 276], [14.82, 268], [14.92, 280], [15.02, 272], [15.12, 285], [15.22, 278], [15.42, 270], [15.62, 276], [15.82, 268], [15.92, 285], [16.02, 282], [16.12, 292], [16.22, 272], [16.32, 288], [16.42, 276], [16.52, 292], [16.62, 280], [16.72, 274], [16.82, 292], [16.92, 286], [17.02, 278], [17.12, 284], [17.22, 276], [17.32, 290], [17.42, 274], [17.52, 286],
    [17.7, 72], [17.72, 55], [17.78, 85], [17.8, 45], [17.85, 28], [17.9, 70], [17.92, 8], [17.95, 60], [18.0, 35], [18.05, 75], [18.08, 15], [18.1, 130], [18.15, 100], [18.2, 95], [18.25, 50], [18.3, 30], [18.35, 345], [18.4, 90], [18.45, 85], [18.5, 60], [18.55, 175], [18.6, 235], [18.62, 225], [18.65, 250], [18.7, 80], [18.72, 90], [18.75, 65], [18.8, 100], [18.85, 75], [18.9, 120], [18.95, 40], [19.0, 345], [19.05, 215], [19.1, 30], [19.15, 140], [19.2, 110], [19.25, 245], [19.3, 210], [19.35, 185], [19.4, 140], [19.45, 250], [19.45, 225], [19.5, 100], [19.5, 60], [19.55, 200], [19.6, 175], [19.65, 245], [19.65, 140], [19.7, 220], [19.75, 25], [19.75, 120], [19.8, 240], [19.85, 175], [19.9, 55], [19.95, 105], [20.0, 85], [20.05, 40], [20.1, 30], [20.15, 5], [20.2, 100], [20.25, 70], [20.3, 20], [20.35, 60], [20.4, 3], [20.45, 85], [20.5, 180], [20.55, 225], [20.6, 60], [20.65, 240], [20.7, 300], [20.75, 250], [20.8, 270], [20.85, 235], [20.9, 95], [20.95, 40], [21.0, 260], [21.05, 200], [21.1, 340], [21.15, 175], [21.2, 260], [21.25, 8], [21.3, 100], [21.35, 30], [21.4, 115], [21.45, 5], [21.5, 80], [21.55, 35], [21.6, 145], [21.65, 70], [21.7, 18], [21.75, 60], [21.8, 240], [21.8, 345], [21.85, 255], [21.9, 100], [21.95, 180], [22.0, 35], [22.05, 145], [22.1, 90], [22.15, 245], [22.2, 110], [22.25, 60], [22.3, 290], [22.35, 10], [22.4, 220], [22.45, 70], [22.5, 40], [22.55, 115], [22.6, 85], [22.65, 345], [22.7, 60], [22.75, 130], [22.8, 95], [22.85, 35], [22.9, 70], [22.95, 45], [23.0, 110], [23.05, 60], [23.1, 85], [23.15, 25], [23.2, 55], [23.25, 95], [23.3, 70], [23.35, 40], [23.4, 60], [23.45, 10], [23.5, 85], [23.55, 45], [23.6, 70], [23.65, 55], [23.7, 95], [23.75, 40], [23.8, 75], [23.85, 60], [23.9, 45], [23.95, 85], [23.98, 55],
    [18.12, 62], [18.28, 75], [18.42, 55], [18.58, 48], [18.78, 42], [18.92, 68], [19.12, 52], [19.28, 40], [19.42, 58], [19.58, 46], [19.72, 62], [19.88, 42], [20.02, 55], [20.18, 62], [20.32, 40], [20.48, 50], [20.62, 38], [20.78, 58], [20.92, 65], [21.08, 48], [21.22, 85], [21.38, 72], [21.52, 95], [21.68, 50], [21.82, 88], [21.98, 68], [22.12, 48], [22.28, 92], [22.42, 55], [22.58, 65], [22.72, 40], [22.88, 52], [23.02, 78], [23.12, 45], [23.22, 65], [23.32, 50], [23.42, 75], [23.52, 60], [23.62, 42], [23.72, 68], [23.82, 48], [23.92, 62],
];

// cumulative rain, mm (the only tick in the picture is 0, the scale is a guess)
const parsivelRain: [number, number][] = [[0, 0], [11.0, 0], [11.02, 0.24], [12.55, 0.24], [12.57, 0.36], [17.35, 0.36], [17.45, 4.0], [17.55, 6.5], [17.65, 10.0], [17.75, 11.5], [17.85, 11.8], [24, 11.8]];
const stationRain: [number, number][] = [[0, 0], [17.42, 0], [17.44, 3.6], [17.58, 3.6], [17.62, 10.0], [17.65, 10.96], [24, 10.96]];

const zhStops = [-50, -45, -32.3, -25.8, -15.7, -6.5, 1, 10.5, 14.6, 20];
const zhColors = ['#dcdcdc', '#9c9cff', '#0000ff', '#008080', '#00ff00', '#ffff00', '#ff8000', '#ff0000', '#b00030', '#800080'];
const zhTicks = [10, -10, -30, -50];
const velStops = [-4, -2, 0, 2, 4];
const velColors = ['#3b4cc0', '#8db0fe', '#dddcdc', '#f49a7b', '#b40426'];
const velTicks = [4, 2, 0, -2, -4];
const rhTicks = d3.range(30, 90, 5);
const dirTicks = [0, 60, 120, 180, 240, 300, 360];

const SANS = '"DejaVu Sans", sans-serif';
const GRID = '#d3d3d3';
const TICK_SIZE = 16.67;
const LABEL_SIZE = 19.44;
const LINE_W = 3.1;
const COL_W = 597;
const ROW_H = 216;
const LEFT = 91;
const RIGHT = 887;
const ROW1 = 120;
const ROW2 = 417.5;
const ROW3 = 715;
const COL_STEP = 0.05;

type Sel = d3.Selection<any, any, any, any>;

// turn a list of column tops into radar rows
function columns(tops: number[], start: number, bottom: (h: number) => number, value: (i: number) => number): number[][] {
    return tops
        .map((top, i) => {
            const h = start + i * COL_STEP;
            return [h, h + COL_STEP, bottom(h), top, value(i)];
        })
        .filter(r => r[3] > r[2]);
}

function styleAxis(g: Sel) {
    g.select('.domain').remove();
    g.selectAll('line').attr('stroke', '#000').attr('stroke-width', 1.1);
    g.selectAll('text').attr('font-family', SANS).attr('font-size', TICK_SIZE).attr('fill', '#000');
}

// grid and ticks for one panel; spines come later so they sit over the marks
function panelAxes(svg: Sel, x: any, y: any, opts: any) {
    const { xTicks, xMinor, xFormat, yTicks, yMinor, yFormat, grid = true } = opts;
    const [x0, x1] = x.range();
    const [y0, y1] = y.range();
    if (grid) {
        const g = svg.append('g').attr('stroke', GRID).attr('stroke-width', 1.1).attr('stroke-dasharray', '4 2');
        g.selectAll('.vg').data(xTicks).join('line').attr('x1', (d: any) => x(d)).attr('x2', (d: any) => x(d)).attr('y1', y0).attr('y2', y1);
        g.selectAll('.hg').data(yTicks).join('line').attr('y1', (d: any) => y(d)).attr('y2', (d: any) => y(d)).attr('x1', x0).attr('x2', x1);
    }
    const bottom = svg.append('g').attr('transform', `translate(0,${y0})`)
        .call(d3.axisBottom(x).tickValues(xMinor).tickSize(3).tickFormat(() => '') as any);
    styleAxis(bottom);
    const bottomMajor = svg.append('g').attr('transform', `translate(0,${y0})`)
        .call(d3.axisBottom(x).tickValues(xTicks).tickSize(5).tickPadding(5).tickFormat(xFormat || (() => '')) as any);
    styleAxis(bottomMajor);
    const left = svg.append('g').attr('transform', `translate(${x0},0)`)
        .call(d3.axisLeft(y).tickValues(yMinor).tickSize(3).tickFormat(() => '') as any);
    styleAxis(left);
    const leftMajor = svg.append('g').attr('transform', `translate(${x0},0)`)
        .call(d3.axisLeft(y).tickValues(yTicks).tickSize(5).tickPadding(4).tickFormat(yFormat || ((d: any) => `${d}`)) as any);
    styleAxis(leftMajor);
}

function spines(svg: Sel, x: any, y: any) {
    const [x0, x1] = x.range();
    const [y0, y1] = y.range();
    svg.append('rect').attr('x', x0).attr('y', y1).attr('width', x1 - x0).attr('height', y0 - y1)
        .attr('fill', 'none').attr('stroke', '#000').attr('stroke-width', 1.1);
}

function clip(svg: Sel, id: string, x: any, y: any) {
    const [x0, x1] = x.range();
    const [y0, y1] = y.range();
    svg.append('clipPath').attr('id', id).append('rect').attr('x', x0).attr('y', y1).attr('width', x1 - x0).attr('height', y0 - y1);
}

function title(svg: Sel, txt: string, cx: number, yy: number) {
    svg.append('text').attr('x', cx).attr('y', yy).attr('text-anchor', 'middle').attr('font-family', SANS)
        .attr('font-size', TICK_SIZE).attr('font-style', 'italic').text(txt);
}

// parts: [text, italic?, superscript?]
function vLabel(svg: Sel, parts: any[][], cx: number, cy: number, size = LABEL_SIZE) {
    const t = svg.append('text').attr('transform', `translate(${cx},${cy}) rotate(-90)`).attr('text-anchor', 'middle')
        .attr('dominant-baseline', 'middle').attr('font-family', SANS).attr('font-size', size);
    parts.forEach(([s, it, sup]) => {
        const span = t.append('tspan').text(s);
        if (it) span.attr('font-style', 'italic');
        if (sup) span.attr('font-size', size * 0.7).attr('baseline-shift', `${size * 0.38}px`);
    });
}

function legendBox(svg: Sel, x: number, y: number, w: number, h: number) {
    svg.append('rect').attr('x', x).attr('y', y).attr('width', w).attr('height', h).attr('rx', 3)
        .attr('fill', '#fff').attr('fill-opacity', 0.8).attr('stroke', '#ccc').attr('stroke-width', 1.1);
}

function legendEntry(svg: Sel, x0: number, x1: number, y: number, color: string, label: string, tx: number) {
    svg.append('line').attr('x1', x0).attr('x2', x1).attr('y1', y).attr('y2', y).attr('stroke', color).attr('stroke-width', LINE_W);
    svg.append('text').attr('x', tx).attr('y', y).attr('dominant-baseline', 'middle').attr('font-family', SANS).attr('font-size', TICK_SIZE).text(label);
}

function radar(svg: Sel, id: string, rows: number[][], color: any, x: any, y: any) {
    svg.append('g').attr('clip-path', `url(#${id})`).attr('shape-rendering', 'crispEdges')
        .selectAll('rect').data(rows).join('rect')
        .attr('x', (d: any) => x(d[0]))
        .attr('width', (d: any) => x(d[1]) - x(d[0]))
        .attr('y', (d: any) => y(d[3]))
        .attr('height', (d: any) => y(d[2]) - y(d[3]))
        .attr('fill', (d: any) => color(d[4]));
}

function colorbar(svg: Sel, gid: string, color: any, stops: number[], ticks: number[], x0: number, topColor: string, botColor: string) {
    const w = 18.4;
    const yTop = 129.3;
    const yBot = 325.8;
    const scale = d3.scaleLinear().domain([stops[0], stops[stops.length - 1]]).range([yBot, yTop]);
    const grad = svg.append('linearGradient').attr('id', gid).attr('x1', 0).attr('x2', 0).attr('y1', 1).attr('y2', 0);
    stops.forEach((s: number) => {
        grad.append('stop').attr('offset', (s - stops[0]) / (stops[stops.length - 1] - stops[0])).attr('stop-color', color(s));
    });
    svg.append('polygon').attr('points', `${x0},${yTop} ${x0 + w / 2},119.7 ${x0 + w},${yTop}`).attr('fill', topColor);
    svg.append('polygon').attr('points', `${x0},${yBot} ${x0 + w / 2},335.8 ${x0 + w},${yBot}`).attr('fill', botColor);
    svg.append('rect').attr('x', x0).attr('y', yTop).attr('width', w).attr('height', yBot - yTop).attr('fill', `url(#${gid})`);
    svg.append('polygon')
        .attr('points', `${x0},${yTop} ${x0 + w / 2},119.7 ${x0 + w},${yTop} ${x0 + w},${yBot} ${x0 + w / 2},335.8 ${x0},${yBot}`)
        .attr('fill', 'none').attr('stroke', '#000').attr('stroke-width', 1.1);
    const g = svg.append('g').attr('transform', `translate(${x0 + w},0)`)
        .call(d3.axisRight(scale).tickValues(ticks).tickSize(5).tickPadding(4).tickFormat((d: any) => `${d}`.replace('-', '\u2212')) as any);
    styleAxis(g);
}

export default function App() {
    const ref = useRef<SVGSVGElement>(null);

    useEffect(() => {
        const svg: Sel = d3.select(ref.current as any);
        svg.selectAll('*').remove();
        svg.append('rect').attr('width', 1600).attr('height', 1000).attr('fill', '#fff');

        // header
        const head = svg.append('text').attr('text-anchor', 'middle').attr('font-family', SANS).attr('font-size', 22.2);
        head.append('tspan').attr('x', 800).attr('y', 36).text('Measurement site: SIRTA (48.717N, 2.209E, 156m)');
        head.append('tspan').attr('x', 800).attr('y', 59).text('18-07-2026');

        // logo
        const logo = svg.append('g');
        const arc = logo.append('linearGradient').attr('id', 'logoArc').attr('gradientUnits', 'userSpaceOnUse').attr('x1', 1306).attr('x2', 1410).attr('y1', 0).attr('y2', 0);
        arc.append('stop').attr('offset', 0).attr('stop-color', '#86cfc9');
        arc.append('stop').attr('offset', 0.45).attr('stop-color', '#2a8d9e');
        arc.append('stop').attr('offset', 1).attr('stop-color', '#0f1340');
        logo.append('path').attr('d', 'M1306,49 Q1378,-15 1451,49').attr('fill', 'none').attr('stroke', 'url(#logoArc)').attr('stroke-width', 2.6);
        const bar = logo.append('linearGradient').attr('id', 'logoBar').attr('x1', 0).attr('x2', 0).attr('y1', 0).attr('y2', 1);
        bar.append('stop').attr('offset', 0).attr('stop-color', '#ffffff');
        bar.append('stop').attr('offset', 0.45).attr('stop-color', '#0f1340');
        logo.append('rect').attr('x', 1422).attr('y', 1).attr('width', 2.6).attr('height', 52).attr('fill', 'url(#logoBar)');
        logo.append('text').attr('x', 1296).attr('y', 78.5).attr('font-family', '"Open Sans", sans-serif').attr('font-size', 29).attr('font-weight', 600)
            .attr('fill', '#0f1340').attr('letter-spacing', 12.6).text('ACTRIS');
        logo.append('text').attr('x', 1376).attr('y', 99).attr('text-anchor', 'middle').attr('font-family', '"Open Sans", sans-serif').attr('font-size', 16.5)
            .attr('fill', '#0f1340').text('CCRES');

        const xL = d3.scaleLinear().domain([0, 24]).range([LEFT, LEFT + COL_W]);
        const xR = d3.scaleLinear().domain([0, 24]).range([RIGHT, RIGHT + COL_W]);
        const timeFmt = (d: any) => timeLabels[timeTicks.indexOf(d)];
        const altTicks = [0, 500, 1000, 1500, 2000, 2500];
        const altMinor = d3.range(0, 2501, 100);

        // ---- Zh ----
        const yZ = d3.scaleLinear().domain([0, 2500]).range([ROW1 + ROW_H, ROW1]);
        const zhColor = d3.scaleLinear<string>().domain(zhStops).range(zhColors);
        clip(svg, 'c1', xL, yZ);
        panelAxes(svg, xL, yZ, { xTicks: timeTicks, xMinor: hourMinor, yTicks: altTicks, yMinor: altMinor });
        // pale fringe leaves the grey layer visible outside the convective hours
        const paleBottom = (h: number) => (h < 8.3 || h >= 20 ? 400 : 130);
        const zhAll = [
            ...zhRows.filter(r => r[1] - r[0] > 0.06),
            ...columns(zhPaleTopDay, 4.5, paleBottom, () => -48),
            ...columns(zhPaleTopEve, 18.05, paleBottom, () => -48),
            ...columns(zhMidTopDay, 6.8, () => 110, () => -42),
            ...columns(zhMidTopEve, 18.05, () => 120, () => -43),
            ...columns(zhBlueTopDay, 6.8, () => 110, () => -35),
            ...zhRows.filter(r => r[1] - r[0] <= 0.06),
        ];
        radar(svg, 'c1', zhAll, zhColor, xL, yZ);
        spines(svg, xL, yZ);
        title(svg, 'DCR - BASTA', LEFT + COL_W / 2, 111);
        vLabel(svg, [['Altitude [m AGL]']], 23, ROW1 + ROW_H / 2);
        colorbar(svg, 'gz', zhColor, zhStops, zhTicks, 707.3, '#800080', '#dcdcdc');
        vLabel(svg, [['Zh ['], ['dBZ', true], [']']], 785, 228, TICK_SIZE);

        // ---- velocity ----
        const velColor = d3.scaleLinear<string>().domain(velStops).range(velColors);
        clip(svg, 'c2', xR, yZ);
        panelAxes(svg, xR, yZ, { xTicks: timeTicks, xMinor: hourMinor, yTicks: altTicks, yMinor: altMinor });
        const velAll = [
            ...velRows.filter(r => r[1] - r[0] > 0.06),
            ...columns(zhPaleTopDay, 4.5, () => 170, i => velHighDay[i]),
            ...columns(zhPaleTopEve, 18.05, () => 170, i => velHighEve[i]),
            ...columns(zhMidTopDay, 6.8, () => 120, i => velLowDay[i]),
            ...velRows.filter(r => r[1] - r[0] <= 0.06),
        ];
        radar(svg, 'c2', velAll, velColor, xR, yZ);
        spines(svg, xR, yZ);
        title(svg, 'DCR - BASTA', RIGHT + COL_W / 2, 111);
        vLabel(svg, [['Altitude [m AGL]']], 819, ROW1 + ROW_H / 2);
        colorbar(svg, 'gv', velColor, velStops, velTicks, 1503, '#b40426', '#3b4cc0');
        vLabel(svg, [['Velocity ['], ['m.s', true], ['\u22121', true, true], [']']], 1571, 228, TICK_SIZE);

        // ---- temperature / humidity ----
        const yT = d3.scaleLinear().domain([14.93, 30.05]).range([ROW2 + ROW_H, ROW2]);
        const yH = d3.scaleLinear().domain([30, 86.6]).range([ROW2 + ROW_H, ROW2]);
        clip(svg, 'c3', xL, yT);
        panelAxes(svg, xL, yT, { xTicks: timeTicks, xMinor: hourMinor, yTicks: [16, 18, 20, 22, 24, 26, 28], yMinor: d3.range(15, 31) });
        const g3 = svg.append('g').attr('clip-path', 'url(#c3)').attr('fill', 'none').attr('stroke-width', LINE_W).attr('stroke-linejoin', 'round');
        const lineT = d3.line<[number, number]>().x(d => xL(d[0])).y(d => yT(d[1]));
        g3.append('path').attr('d', lineT(temperature)).attr('stroke', '#0da2ff');
        legendBox(svg, 100.5, 426, 76, 31);
        legendEntry(svg, 105.5, 142, 441, '#0da2ff', 'te', 152);
        const lineH = d3.line<[number, number]>().x(d => xL(d[0])).y(d => yH(d[1]));
        svg.append('path').attr('clip-path', 'url(#c3)').attr('fill', 'none').attr('stroke-width', LINE_W).attr('stroke-linejoin', 'round')
            .attr('d', lineH(humidity)).attr('stroke', '#ffa500');
        legendBox(svg, 595, 434, 76.5, 31);
        legendEntry(svg, 600.5, 637, 449, '#ffa500', 'rh', 649);
        const rhAxis = svg.append('g').attr('transform', `translate(${LEFT + COL_W},0)`)
            .call(d3.axisRight(yH).tickValues(rhTicks).tickSize(5).tickPadding(4) as any);
        styleAxis(rhAxis);
        const rhMinor = svg.append('g').attr('transform', `translate(${LEFT + COL_W},0)`)
            .call(d3.axisRight(yH).tickValues(d3.range(30, 87)).tickSize(3).tickFormat(() => '') as any);
        styleAxis(rhMinor);
        spines(svg, xL, yT);
        title(svg, 'weather station', LEFT + COL_W / 2, 408);
        vLabel(svg, [['Temperature ['], ['o', true, true], ['C', true], [']']], 20, ROW2 + ROW_H / 2);
        vLabel(svg, [['Relative Humidity [%]']], 733, ROW2 + ROW_H / 2);

        // ---- wind ----
        const yW = d3.scaleLinear().domain([-0.245, 5.63]).range([ROW2 + ROW_H, ROW2]);
        const yD = d3.scaleLinear().domain([0, 360]).range([ROW2 + ROW_H, ROW2]);
        clip(svg, 'c4', xR, yW);
        panelAxes(svg, xR, yW, { xTicks: timeTicks, xMinor: hourMinor, xFormat: timeFmt, yTicks: [0, 2, 4], yMinor: [0, 1, 2, 3, 4, 5] });
        const windHours = windSpeed.map((_, i) => (i * 4) / 60);
        const lineW = d3.line<number>().x((_, i) => xR(windHours[i])).y(d => yW(d));
        svg.append('path').attr('clip-path', 'url(#c4)').attr('fill', 'none').attr('stroke', '#ff0000').attr('stroke-width', LINE_W).attr('stroke-linejoin', 'round')
            .attr('d', lineW(windSpeed));
        legendBox(svg, 895, 426, 159.6, 31);
        legendEntry(svg, 901, 937, 441, '#ff0000', 'Wind Speed', 949);
        svg.append('g').attr('clip-path', 'url(#c4)').selectAll('circle').data(windDir).join('circle')
            .attr('cx', (d: any) => xR(d[0])).attr('cy', (d: any) => yD(d[1])).attr('r', 3.6).attr('fill', '#008000');
        legendBox(svg, 1292, 426, 183, 31);
        svg.append('text').attr('x', 1346).attr('y', 441).attr('dominant-baseline', 'middle').attr('font-family', SANS).attr('font-size', TICK_SIZE).text('Wind Direction');
        const dirAxis = svg.append('g').attr('transform', `translate(${RIGHT + COL_W},0)`)
            .call(d3.axisRight(yD).tickValues(dirTicks).tickSize(5).tickPadding(4) as any);
        styleAxis(dirAxis);
        const dirMinor = svg.append('g').attr('transform', `translate(${RIGHT + COL_W},0)`)
            .call(d3.axisRight(yD).tickValues(d3.range(0, 361, 20)).tickSize(3).tickFormat(() => '') as any);
        styleAxis(dirMinor);
        spines(svg, xR, yW);
        title(svg, 'weather station', RIGHT + COL_W / 2, 408);
        vLabel(svg, [['Wind Speed ['], ['m.s', true], ['\u22121', true, true], [']']], 814, ROW2 + ROW_H / 2);
        vLabel(svg, [['Wind Direction [\u00b0]']], 1540, ROW2 + ROW_H / 2);
        svg.append('text').attr('x', RIGHT + COL_W / 2).attr('y', 682).attr('text-anchor', 'middle').attr('font-family', SANS).attr('font-size', LABEL_SIZE).text('Time [UTC]');

        // ---- rain ----
        const yR = d3.scaleLinear().domain([-0.6, 12.36]).range([ROW3 + ROW_H, ROW3]);
        clip(svg, 'c5', xL, yR);
        panelAxes(svg, xL, yR, { xTicks: timeTicks, xMinor: hourMinor, xFormat: timeFmt, yTicks: [0], yMinor: [0] });
        const lineR = d3.line<[number, number]>().x(d => xL(d[0])).y(d => yR(d[1]));
        const g5 = svg.append('g').attr('clip-path', 'url(#c5)').attr('fill', 'none').attr('stroke-width', LINE_W).attr('stroke-linejoin', 'round');
        g5.append('path').attr('d', lineR(parsivelRain)).attr('stroke', '#f0895f');
        g5.append('path').attr('d', lineR(stationRain)).attr('stroke', '#999999');
        legendBox(svg, 420.4, 865.7, 258.6, 56.6);
        legendEntry(svg, 427, 463, 879, '#f0895f', 'OTT HydroMet Parsivel2', 473);
        legendEntry(svg, 427, 463, 906, '#999999', 'Weather Station', 473);
        spines(svg, xL, yR);
        title(svg, 'Disdrometer and Weather station', LEFT + COL_W / 2, 705);
        vLabel(svg, [['Cumulative rainfall ['], ['mm', true], [']']], 23, 823);
        svg.append('text').attr('x', LEFT + COL_W / 2).attr('y', 980).attr('text-anchor', 'middle').attr('font-family', SANS).attr('font-size', LABEL_SIZE).text('Time [UTC]');

        // ---- fall speed ----
        const xF = d3.scaleLinear().domain([0, 5]).range([RIGHT, RIGHT + COL_W]);
        const yF = d3.scaleLinear().domain([0, 10]).range([ROW3 + ROW_H, ROW3]);
        panelAxes(svg, xF, yF, { xTicks: [0, 1, 2, 3, 4, 5], xMinor: d3.range(0, 5.01, 0.5), xFormat: (d: any) => `${d}`, yTicks: [0, 2, 4, 6, 8, 10], yMinor: d3.range(0, 11) });
        svg.append('text').attr('x', xF(2)).attr('y', yF(4)).attr('font-family', SANS).attr('font-size', LABEL_SIZE).attr('font-style', 'italic').text('No fit');
        spines(svg, xF, yF);
        title(svg, 'Relationship disdrometer fall speed / drop size', RIGHT + COL_W / 2, 705);
        vLabel(svg, [['Fall speed ['], ['m.s', true], ['\u22121', true, true], [']']], 814, 823);
        const dia = svg.append('text').attr('x', RIGHT + COL_W / 2).attr('y', 980).attr('text-anchor', 'middle').attr('font-family', SANS).attr('font-size', LABEL_SIZE);
        dia.append('tspan').text('Diameter [');
        dia.append('tspan').attr('font-style', 'italic').text('mm');
        dia.append('tspan').text(']');
    }, []);

    return <svg ref={ref} width={1600} height={1000} style={{ position: 'absolute', left: 0, top: 0 }} />;
}
